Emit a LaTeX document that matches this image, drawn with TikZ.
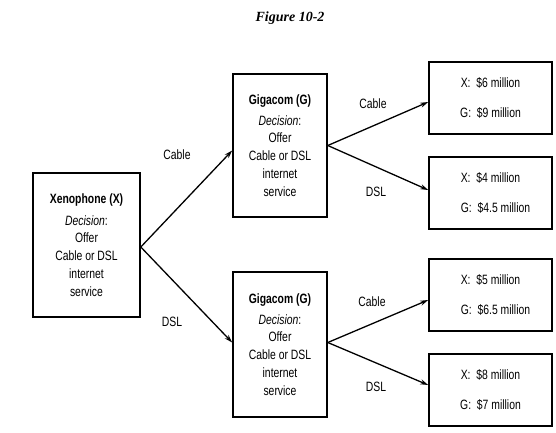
\documentclass[tikz,border=0pt]{standalone}
\usepackage{fontspec}
\setmainfont{Liberation Sans}[FakeStretch=0.77]
\newfontfamily\titlefont{Liberation Serif}
\usetikzlibrary{arrows.meta}
\begin{document}
\begin{tikzpicture}[x=1pt,y=-1pt,
  box/.style={draw,line width=1.6pt,inner sep=0pt,align=center,
    font=\fontsize{13.5}{17.7}\selectfont},
  payoff/.style={box,minimum width=123pt,minimum height=72pt},
  dec/.style={box,minimum height=144pt},
  lbl/.style={font=\fontsize{13.5}{15}\selectfont,inner sep=0pt},
  arr/.style={line width=1.3pt,-{Stealth[length=8pt,width=5pt]}}]
\useasboundingbox (0,0) rectangle (556,432);
\node[font=\titlefont\bfseries\itshape\fontsize{14}{16}\selectfont] (title) at (290,18) {Figure 10-2};
\node[dec,minimum width=107pt] (X) at (86.5,245) {\textbf{Xenophone (X)}\\[4pt]\textit{Decision}:\\Offer\\Cable or DSL\\internet\\service};
\node[dec,minimum width=94pt,minimum height=143pt] (G1) at (280,145.5) {\textbf{Gigacom (G)}\\[3pt]\textit{Decision}:\\Offer\\Cable or DSL\\internet\\service};
\node[dec,minimum width=94pt,minimum height=145pt] (G2) at (280,344.5) {\textbf{Gigacom (G)}\\[3pt]\textit{Decision}:\\Offer\\Cable or DSL\\internet\\service};
\node[payoff] (P1) at (490.5,98) {X:~~\$6 million\\[12.3pt]G:~~\$9 million};
\node[payoff] (P2) at (490.5,193) {X:~~\$4 million\\[12.3pt]\hspace*{10pt}G:~~\$4.5 million};
\node[payoff] (P3) at (490.5,295) {X:~~\$5 million\\[12.3pt]\hspace*{10pt}G:~~\$6.5 million};
\node[payoff] (P4) at (490.5,390) {X:~~\$8 million\\[12.3pt]G:~~\$7 million};
\draw[arr] ([yshift=-2pt]X.east) -- ([yshift=-5pt]G1.west);
\draw[arr] ([yshift=-2pt]X.east) -- ([yshift=2pt]G2.west);
\draw[arr] (G1.east) -- ([yshift=-4pt]P1.west);
\draw[arr] (G1.east) -- ([yshift=3pt]P2.west);
\draw[arr] ([yshift=2pt]G2.east) -- ([yshift=-5pt]P3.west);
\draw[arr] ([yshift=2pt]G2.east) -- ([yshift=5pt]P4.west);
\node[lbl] (l1) at (177,155) {Cable};
\node[lbl] (l2) at (172,322) {DSL};
\node[lbl] (l3) at (373,104) {Cable};
\node[lbl] (l4) at (376,192) {DSL};
\node[lbl] (l5) at (372,302) {Cable};
\node[lbl] (l6) at (376,387) {DSL};
\end{tikzpicture}
\end{document}
